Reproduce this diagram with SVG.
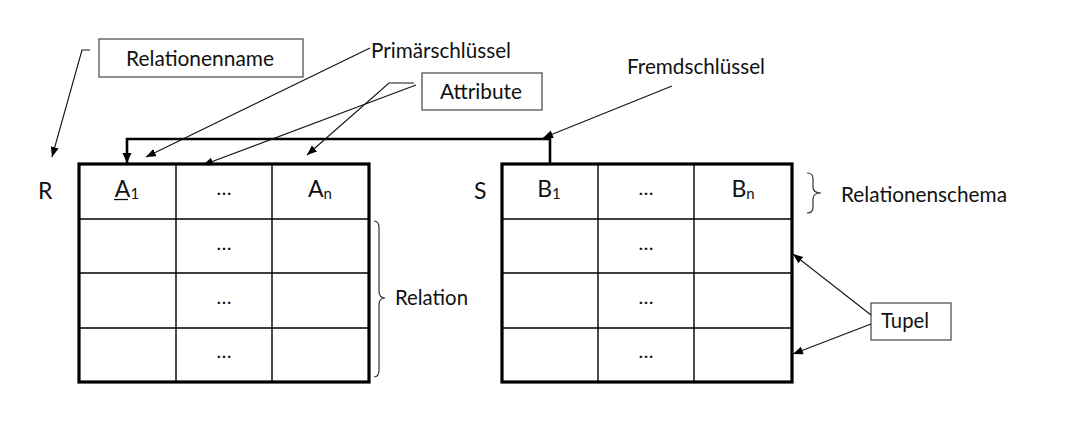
<svg xmlns="http://www.w3.org/2000/svg" width="1069" height="446" viewBox="0 0 1069 446">
<style>
  text { font-family: Lato, "Liberation Sans", sans-serif; fill: #111; }
  .lbl { font-size: 21.5px; }
  .big { font-size: 23px; }
  .sub { font-size: 15px; }
  .dots { font-size: 20px; text-anchor: middle; }
  .box { fill: #fff; stroke: #444; stroke-width: 1.2; }
  .outer { fill: #fff; stroke: #000; stroke-width: 3.2; }
  .grid { stroke: #000; stroke-width: 1.4; fill: none; }
  .thin { stroke: #111; stroke-width: 1.1; fill: none; marker-end: url(#ah); }
  .brace { stroke: #333; stroke-width: 1.2; fill: none; }
</style>
<defs>
  <marker id="ah" markerUnits="userSpaceOnUse" markerWidth="12" markerHeight="10" refX="10" refY="4" orient="auto">
    <path d="M0,0 L10,4 L0,8 z" fill="#000"/>
  </marker>
  <marker id="ahb" markerUnits="userSpaceOnUse" markerWidth="12" markerHeight="10" refX="10" refY="4.5" orient="auto">
    <path d="M0,0 L10,4.5 L0,9 z" fill="#000"/>
  </marker>
</defs>
<rect width="1069" height="446" fill="#fff"/>

<g id="table-R">
  <rect class="outer" x="79" y="164" width="290" height="218"/>
  <path class="grid" d="M176,164 V382 M272,164 V382 M79,219 H369 M79,273 H369 M79,328 H369"/>
  <text class="big" x="38" y="199">R</text>
  <text class="big" x="127" y="197" text-anchor="middle">A<tspan class="sub" dy="2">1</tspan></text>
  <line x1="114" y1="199.5" x2="128" y2="199.5" stroke="#111" stroke-width="1.3"/>
  <text class="dots" x="224" y="195">…</text>
  <text class="big" x="320" y="197" text-anchor="middle">A<tspan class="sub" dy="2">n</tspan></text>
  <text class="dots" x="224" y="250">…</text>
  <text class="dots" x="224" y="304">…</text>
  <text class="dots" x="224" y="358">…</text>
</g>

<g id="table-S">
  <rect class="outer" x="502" y="164" width="290" height="218"/>
  <path class="grid" d="M598,164 V382 M694,164 V382 M502,219 H792 M502,273 H792 M502,328 H792"/>
  <text class="big" x="474" y="199">S</text>
  <text class="big" x="549" y="197" text-anchor="middle">B<tspan class="sub" dy="2">1</tspan></text>
  <text class="dots" x="646" y="195">…</text>
  <text class="big" x="743" y="197" text-anchor="middle">B<tspan class="sub" dy="2">n</tspan></text>
  <text class="dots" x="646" y="250">…</text>
  <text class="dots" x="646" y="304">…</text>
  <text class="dots" x="646" y="358">…</text>
</g>

<g id="relationenname">
  <rect class="box" x="99" y="39" width="204" height="38"/>
  <text class="lbl" x="126" y="66" textLength="148" lengthAdjust="spacingAndGlyphs">Relationenname</text>
</g>

<g id="primaerschluessel">
  <text class="lbl" x="371" y="58" textLength="140" lengthAdjust="spacingAndGlyphs">Primärschlüssel</text>
</g>

<g id="attribute">
  <rect class="box" x="422" y="73" width="120" height="37"/>
  <text class="lbl" x="440" y="99" textLength="82" lengthAdjust="spacingAndGlyphs">Attribute</text>
</g>

<g id="fremdschluessel">
  <text class="lbl" x="627" y="74" textLength="138" lengthAdjust="spacingAndGlyphs">Fremdschlüssel</text>
</g>

<g id="relationenschema">
  <path class="brace" d="M807,173 Q813,173 813,179 L813,187 Q813,193 821,193 Q813,193 813,199 L813,207 Q813,213 807,213"/>
  <text class="lbl" x="841" y="202" textLength="166" lengthAdjust="spacingAndGlyphs">Relationenschema</text>
</g>

<g id="relation">
  <path class="brace" d="M374,221 Q379,221 379,228 L379,291 Q379,298 385,298 Q379,298 379,305 L379,370 Q379,377 374,377"/>
  <text class="lbl" x="395" y="305" textLength="73" lengthAdjust="spacingAndGlyphs">Relation</text>
</g>

<g id="tupel">
  <rect class="box" x="871" y="303" width="80" height="37"/>
  <text class="lbl" x="881" y="328" textLength="48" lengthAdjust="spacingAndGlyphs">Tupel</text>
</g>

<g id="connectors">
  <polyline points="550,164 550,139 127,139 127,163" fill="none" stroke="#000" stroke-width="2.6" marker-end="url(#ahb)"/>
  <polyline class="thin" points="90,50 82,50 52,157"/>
  <line class="thin" x1="370" y1="48" x2="146" y2="157"/>
  <line class="thin" x1="416" y1="85" x2="203" y2="165"/>
  <polyline class="thin" points="414,83 389,83 307,155"/>
  <line class="thin" x1="672" y1="86" x2="543" y2="138"/>
  <line class="thin" x1="871" y1="315" x2="793" y2="254"/>
  <line class="thin" x1="871" y1="324" x2="793" y2="354"/>
</g>
</svg>
